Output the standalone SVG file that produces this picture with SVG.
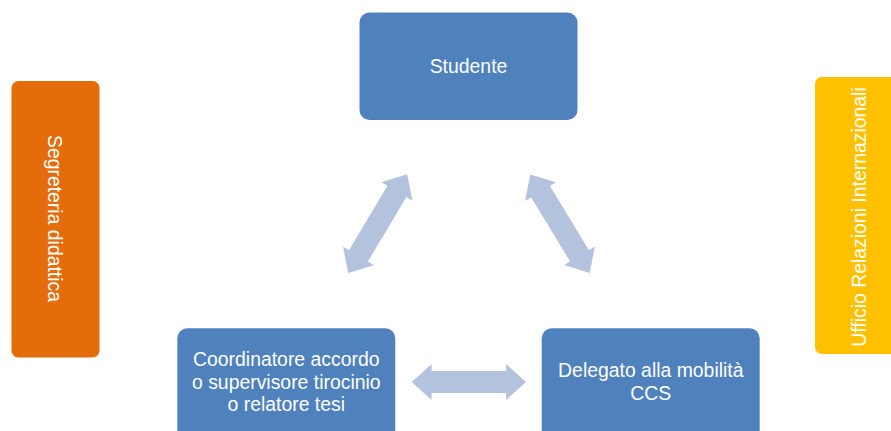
<svg xmlns="http://www.w3.org/2000/svg" width="891" height="431" viewBox="0 0 891 431">
<style>
.box{fill:#4F81BD;}
.t{font-family:"Liberation Sans",Arial,sans-serif;font-size:19.4px;fill:#FFFFFF;text-anchor:middle;}
.arr{fill:#B3C3DE;}
</style>
<defs>
<path id="dbl" d="M-57.5,0 L-37.5,-18 L-37.5,-11 L37.5,-11 L37.5,-18 L57.5,0 L37.5,18 L37.5,11 L-37.5,11 L-37.5,18 Z"/>
</defs>
<rect width="891" height="431" fill="#FFFFFF"/>
<g id="connectors" class="arr">
<use href="#dbl" transform="translate(377.7,223.7) rotate(-59.2)"/>
<use href="#dbl" transform="translate(560,223.7) rotate(58.8)"/>
<use href="#dbl" transform="translate(468.85,382) scale(0.994,1)"/>
</g>
<g id="studente">
<rect class="box" x="359.5" y="12.5" width="218" height="107.5" rx="10"/>
<text class="t" x="468.5" y="72.5">Studente</text>
</g>
<g id="segreteria">
<rect x="11.5" y="81" width="88" height="276.5" rx="7" fill="#E46C0A"/>
<text class="t" transform="translate(47.5,218.5) rotate(90)" x="0" y="0">Segreteria didattica</text>
</g>
<g id="ufficio">
<rect x="815" y="77" width="90" height="277" rx="7" fill="#FFC000"/>
<text class="t" transform="translate(866,217) rotate(-90)" x="0" y="0">Ufficio Relazioni Internazionali</text>
</g>
<g id="coordinatore">
<rect class="box" x="177.3" y="328.3" width="218" height="115" rx="10"/>
<text class="t" x="286.3" y="366"><tspan x="286.3" y="366">Coordinatore accordo</tspan><tspan x="286.3" y="388.5">o supervisore tirocinio</tspan><tspan x="286.3" y="411">o relatore tesi</tspan></text>
</g>
<g id="delegato">
<rect class="box" x="541.7" y="328.3" width="218" height="115" rx="10"/>
<text class="t" x="650.8" y="376.5"><tspan x="650.8" y="376.5">Delegato alla mobilità</tspan><tspan x="650.8" y="399.5">CCS</tspan></text>
</g>
</svg>
